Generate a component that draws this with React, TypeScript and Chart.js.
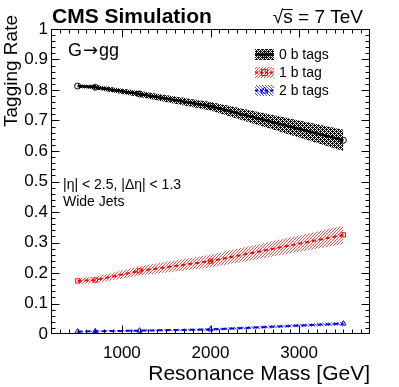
import React, { useEffect, useRef } from 'react';
import { Chart, registerables } from 'chart.js';

Chart.register(...registerables);

// ---- data ----
const massPoints = [500, 700, 1200, 2000, 3500];
const rate0b = [0.813, 0.809, 0.787, 0.747, 0.635];
const err0b = [0.006, 0.007, 0.010, 0.014, 0.035];
const rate1b = [0.174, 0.177, 0.207, 0.239, 0.325];
const err1b = [0.010, 0.011, 0.015, 0.021, 0.030];
const rate2b = [0.008, 0.009, 0.011, 0.015, 0.034];
const err2b = [0.002, 0.002, 0.003, 0.004, 0.006];
const seriesLabels = ['0 b tags', '1 b tag', '2 b tags'];
const xLabelTicks = [1000, 2000, 3000];
const xRange = [200, 3800];
const yRange = [0, 1];
const yTickStep = 0.1;

const FONT = '"Liberation Sans", Arial, Helvetica, sans-serif';

function makePattern(ctx: CanvasRenderingContext2D, kind: string): CanvasPattern | string {
  const tile = document.createElement('canvas');
  const t = tile.getContext('2d')!;
  if (kind === 'cross') {
    tile.width = 4; tile.height = 4;
    t.fillStyle = 'rgba(0,0,0,0.95)';
    const rows = ['X.X.', '.XXX', 'X.X.', 'XX.X'];
    rows.forEach((r, yy) => r.split('').forEach((ch, xx) => { if (ch === 'X') t.fillRect(xx, yy, 1, 1); }));
  } else if (kind === 'fwd') {
    tile.width = 3; tile.height = 3;
    t.fillStyle = 'rgba(255,0,0,0.7)';
    for (let i = 0; i < 3; i++) t.fillRect(i, 2 - i, 1, 1);
  } else {
    tile.width = 3; tile.height = 3;
    t.fillStyle = 'rgba(0,0,255,0.7)';
    for (let i = 0; i < 3; i++) t.fillRect(i, i, 1, 1);
  }
  return ctx.createPattern(tile, 'repeat') || '#888';
}

function pts(vals: number[], off: number[] | null, sign: number) {
  return massPoints.map((m, i) => ({ x: m, y: vals[i] + (off ? sign * off[i] : 0) }));
}

function drawMarker(ctx: CanvasRenderingContext2D, style: string, cx: number, cy: number, color: string) {
  ctx.save();
  ctx.strokeStyle = color;
  ctx.lineWidth = 1;
  ctx.setLineDash([]);
  ctx.beginPath();
  if (style === 'circle') {
    ctx.arc(cx, cy, 3, 0, Math.PI * 2);
  } else if (style === 'rect') {
    ctx.rect(cx - 3, cy - 3, 6, 6);
  } else {
    ctx.moveTo(cx, cy - 3.5);
    ctx.lineTo(cx + 3.5, cy + 2.5);
    ctx.lineTo(cx - 3.5, cy + 2.5);
    ctx.closePath();
  }
  ctx.stroke();
  ctx.restore();
}

export default function App() {
  const ref = useRef<HTMLCanvasElement>(null);

  useEffect(() => {
    document.body.style.margin = '0';
    const canvas = ref.current!;
    const ctx = canvas.getContext('2d')!;
    const patBlack = makePattern(ctx, 'cross');
    const patRed = makePattern(ctx, 'fwd');
    const patBlue = makePattern(ctx, 'back');

    const series = [
      { vals: rate0b, err: err0b, color: '#000000', pat: patBlack, dash: [] as number[], width: 2.5, marker: 'circle' },
      { vals: rate1b, err: err1b, color: '#ff0000', pat: patRed, dash: [4, 3], width: 2, marker: 'rect' },
      { vals: rate2b, err: err2b, color: '#0000ff', pat: patBlue, dash: [5, 3], width: 2, marker: 'triangle' },
    ];

    const datasets: any[] = [];
    series.forEach((s) => {
      datasets.push({
        data: pts(s.vals, s.err, 1),
        borderWidth: 0,
        borderColor: 'rgba(0,0,0,0)',
        pointRadius: 0,
        fill: '+1',
        backgroundColor: s.pat,
        tension: 0,
        order: 10,
      });
      datasets.push({
        data: pts(s.vals, s.err, -1),
        borderWidth: 0,
        borderColor: 'rgba(0,0,0,0)',
        pointRadius: 0,
        fill: false,
        tension: 0,
        order: 10,
      });
    });
    series.forEach((s, i) => {
      datasets.push({
        label: seriesLabels[i],
        data: pts(s.vals, null, 0),
        borderColor: s.color,
        borderWidth: s.width,
        borderDash: s.dash,
        pointStyle: s.marker,
        pointRadius: 3,
        pointBorderWidth: 1,
        pointBorderColor: s.color,
        pointBackgroundColor: 'rgba(0,0,0,0)',
        fill: false,
        tension: 0,
        order: 1,
      });
    });

    const decor = {
      id: 'decor',
      afterDraw(chart: any) {
        const c: CanvasRenderingContext2D = chart.ctx;
        const a = chart.chartArea;
        const xs = chart.scales.x;
        const ys = chart.scales.y;
        c.save();
        // frame
        c.strokeStyle = '#000';
        c.lineWidth = 1;
        c.setLineDash([]);
        const L = Math.round(a.left) + 0.5, R = Math.round(a.right) - 0.5;
        const T = Math.round(a.top) + 0.5, B = Math.round(a.bottom) - 0.5;
        c.strokeRect(L, T, R - L, B - T);
        c.beginPath();
        // x ticks every 100 GeV
        for (let k = 3; k < 38; k++) {
          const v = k * 100;
          const px = Math.round(xs.getPixelForValue(v)) + 0.5;
          const len = v % 1000 === 0 ? 8 : 4;
          c.moveTo(px, B); c.lineTo(px, B - len);
          c.moveTo(px, T); c.lineTo(px, T + len);
        }
        // y ticks every 0.02
        for (let k = 1; k < 50; k++) {
          const v = k * 0.02;
          const py = Math.round(ys.getPixelForValue(v)) + 0.5;
          const len = k % 5 === 0 ? 8 : 4;
          c.moveTo(L, py); c.lineTo(L + len, py);
          c.moveTo(R, py); c.lineTo(R - len, py);
        }
        c.stroke();

        c.fillStyle = '#000';
        // header texts
        c.font = `bold 21px ${FONT}`;
        c.textAlign = 'left';
        c.textBaseline = 'alphabetic';
        c.fillText('CMS Simulation', 52, 23);
        c.font = `19px ${FONT}`;
        c.textAlign = 'right';
        const energy = '√s = 7 TeV';
        c.fillText(energy, 363, 23);
        const wTot = c.measureText(energy).width;
        const wRad = c.measureText('√').width;
        const wS = c.measureText('s').width;
        const x0 = 363 - wTot + wRad - 1;
        c.beginPath();
        c.lineWidth = 1;
        c.moveTo(x0, 9.5); c.lineTo(x0 + wS + 1, 9.5);
        c.stroke();

        // process label
        c.textAlign = 'left';
        c.font = `18px ${FONT}`;
        c.fillText('G', 68, 56);
        const wG = c.measureText('G').width;
        c.font = `18px "DejaVu Sans", ${FONT}`;
        c.fillText('→', 68 + wG + 1, 56);
        const wA = c.measureText('→').width;
        c.font = `18px ${FONT}`;
        c.fillText('gg', 68 + wG + wA + 2, 56);

        c.font = `14px ${FONT}`;
        c.fillText('|η| < 2.5, |Δη| < 1.3', 63, 189);
        c.fillText('Wide Jets', 63, 206);

        // axis titles
        c.font = `21px ${FONT}`;
        c.textAlign = 'right';
        c.fillText('Resonance Mass [GeV]', 370, 380);
        c.save();
        c.translate(17, 15);
        c.rotate(-Math.PI / 2);
        c.font = `19px ${FONT}`;
        c.textAlign = 'right';
        c.fillText('Tagging Rate', 0, 0);
        c.restore();

        // legend
        series.forEach((s, i) => {
          const bx = 255, by = 49 + 18 * i, bw = 19, bh = 11;
          c.fillStyle = s.pat as any;
          c.fillRect(bx, by, bw, bh);
          c.beginPath();
          c.strokeStyle = s.color;
          c.lineWidth = s.width;
          c.setLineDash(s.dash.length ? [3, 2] : []);
          c.moveTo(bx, by + bh / 2); c.lineTo(bx + bw, by + bh / 2);
          c.stroke();
          c.setLineDash([]);
          drawMarker(c, s.marker, bx + bw / 2, by + bh / 2, s.color);
          c.fillStyle = '#000';
          c.font = `14px ${FONT}`;
          c.textAlign = 'left';
          c.fillText(seriesLabels[i], 279, by + 10);
        });
        c.restore();
      },
    };

    const chart = new Chart(canvas, {
      type: 'line',
      data: { datasets },
      options: {
        animation: false,
        responsive: false,
        devicePixelRatio: 1,
        layout: { padding: { top: 29, right: 29, left: 0, bottom: 0 } },
        plugins: { legend: { display: false }, tooltip: { enabled: false } },
        scales: {
          x: {
            type: 'linear',
            min: xRange[0],
            max: xRange[1],
            grid: { display: false, drawTicks: false },
            border: { display: false },
            afterBuildTicks: (sc: any) => { sc.ticks = xLabelTicks.map((v) => ({ value: v })); },
            afterFit: (sc: any) => { sc.height = 53; },
            ticks: {
              autoSkip: false,
              maxRotation: 0,
              padding: 9,
              color: '#000',
              font: { family: FONT, size: 17 },
              callback: (v: any) => String(v),
            },
          },
          y: {
            min: yRange[0],
            max: yRange[1],
            grid: { display: false, drawTicks: false },
            border: { display: false },
            afterFit: (sc: any) => { sc.width = 51; },
            ticks: {
              stepSize: yTickStep,
              autoSkip: false,
              padding: 3,
              color: '#000',
              font: { family: FONT, size: 17 },
              callback: (v: any) => {
                const n = Math.round(Number(v) * 10) / 10;
                return n === 0 ? '0' : n === 1 ? '1' : n.toFixed(1);
              },
            },
          },
        },
      },
      plugins: [decor],
    } as any);

    return () => chart.destroy();
  }, []);

  return (
    <div style={{ width: 399, height: 387 }}>
      <canvas ref={ref} width={399} height={387} style={{ display: 'block' }} />
    </div>
  );
}
